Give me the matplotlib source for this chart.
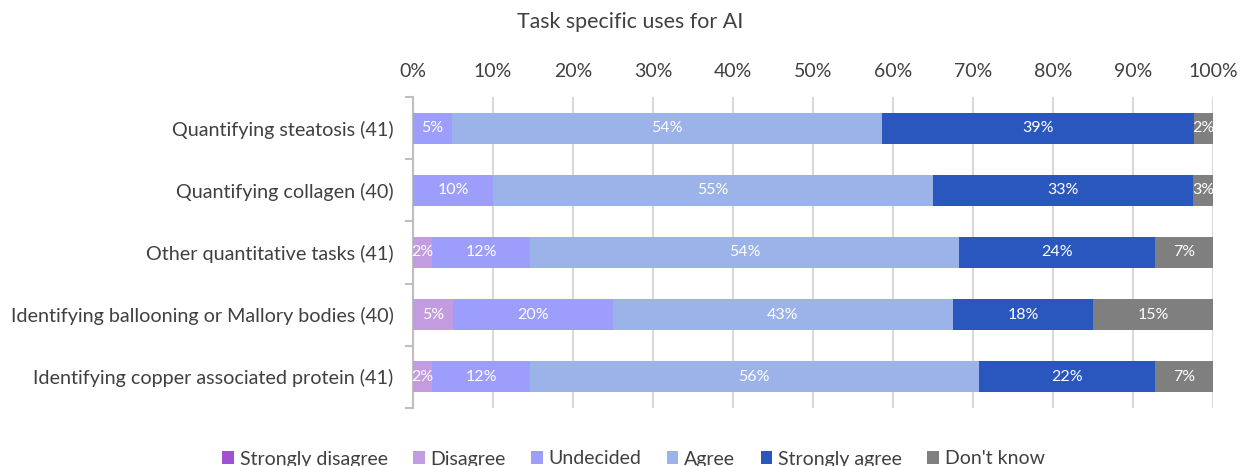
import matplotlib.pyplot as plt

plt.rcParams['font.family'] = ['Lato', 'DejaVu Sans']

tasks = ["Quantifying steatosis (41)", "Quantifying collagen (40)", "Other quantitative tasks (41)",
         "Identifying ballooning or Mallory bodies (40)", "Identifying copper associated protein (41)"]
responses = ["Strongly disagree", "Disagree", "Undecided", "Agree", "Strongly agree", "Don't know"]
colors = ["#A050D8", "#C39BE0", "#9D9DFB", "#9BB3E8", "#2957BE", "#7F7F7F"]

# percent of respondents per task, one list per response
strongly_disagree = [0, 0, 0, 0, 0]
disagree = [0, 0, 2.4, 5.0, 2.4]
undecided = [4.9, 10.0, 12.2, 20.0, 12.2]
agree = [53.7, 55.0, 53.7, 42.5, 56.1]
strongly_agree = [39.0, 32.5, 24.4, 17.5, 22.0]
dont_know = [2.4, 2.5, 7.3, 15.0, 7.3]
series = [strongly_disagree, disagree, undecided, agree, strongly_agree, dont_know]

fig = plt.figure(figsize=(12.42, 4.66), dpi=100)
ax = fig.add_axes([413 / 1242, 1 - 408 / 466, 800 / 1242, 311 / 466])

ypos = list(range(len(tasks)))
left = [0] * len(tasks)
for name, vals, c in zip(responses, series, colors):
    bars = ax.barh(ypos, vals, left=left, height=0.5, color=c, label=name, zorder=3)
    for b, v in zip(bars, vals):
        if v > 0:
            ax.text(b.get_x() + b.get_width() / 2, b.get_y() + b.get_height() / 2,
                    f"{int(v + 0.5)}%", ha="center", va="center", color="white",
                    fontsize=11.5, zorder=4)
    left = [l + v for l, v in zip(left, vals)]

ax.set_xlim(0, 100)
ax.set_ylim(len(tasks) - 0.5, -0.5)
ax.set_xticks(range(0, 101, 10))
ax.set_xticklabels([f"{t}%" for t in range(0, 101, 10)], fontsize=14, color="#404040")
ax.xaxis.tick_top()
ax.tick_params(axis="x", length=0, pad=12)
ax.grid(axis="x", color="#D9D9D9", linewidth=1.5, zorder=0)

ax.set_yticks(ypos)
ax.set_yticklabels(tasks, fontsize=14.2, color="#404040")
ax.set_yticks([i - 0.5 for i in range(len(tasks) + 1)], minor=True)
ax.tick_params(axis="y", which="major", length=0, pad=14)
ax.tick_params(axis="y", which="minor", length=6, color="#BFBFBF", width=1.5)

for s in ["top", "right", "bottom"]:
    ax.spines[s].set_visible(False)
ax.spines["left"].set_color("#BFBFBF")
ax.spines["left"].set_linewidth(1.5)

fig.text(0.507, 1 - 22 / 466, "Task specific uses for AI", ha="center", va="center",
         fontsize=15.4, color="#404040")

fig.legend(loc="center", bbox_to_anchor=(0.51, 1 - 459 / 466), ncol=6, frameon=False,
           fontsize=14, handlelength=0.6, handleheight=0.6, handletextpad=0.3,
           columnspacing=1.3, labelcolor="#404040")

fig.savefig("out.png", dpi=100)
